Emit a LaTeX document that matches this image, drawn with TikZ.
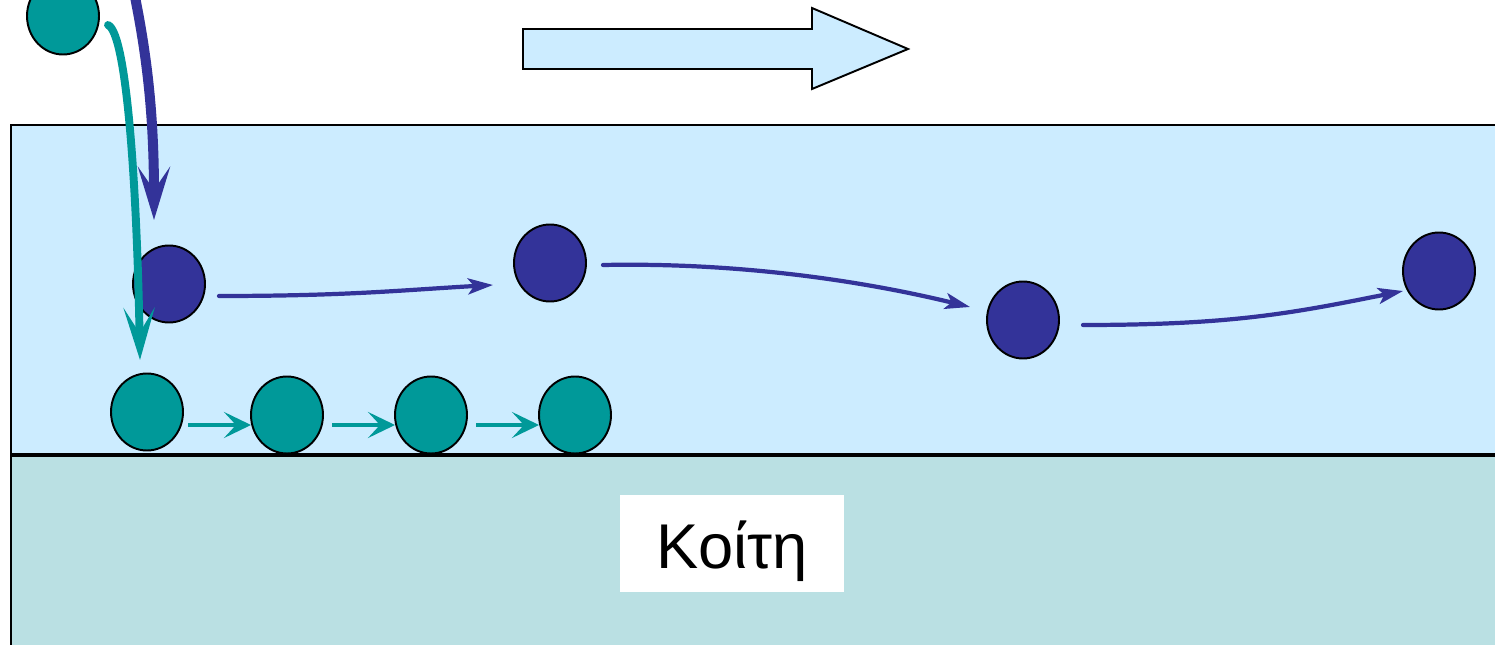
\documentclass[tikz,border=0pt]{standalone}
\usepackage{fontspec}
\setmainfont{Liberation Sans}
\usetikzlibrary{arrows.meta}
\usetikzlibrary{shapes.geometric}
\usetikzlibrary{calc}

\definecolor{navy}{RGB}{51,51,153}
\definecolor{teal}{RGB}{0,153,153}
\definecolor{water}{RGB}{204,236,255}
\definecolor{bedcol}{RGB}{186,224,227}

\begin{document}
\begin{tikzpicture}[x=0.02cm,y=-0.02cm,
  grain/.style={ellipse,draw,line width=1.1pt,inner sep=0pt,minimum width=1.44cm,minimum height=1.54cm},
  fall/.style={line width=#1,line cap=round},
  hop/.style={navy,line width=2.4pt,line cap=round,-{Stealth[length=0.5cm,width=0.32cm,inset=0.12cm]}},
  roll/.style={teal,line width=2.3pt,-{Stealth[length=0.54cm,width=0.52cm,inset=0.24cm]}}]
\useasboundingbox (0,0) rectangle (1495,645);
\fill[water] (11,125) rectangle (1500,455);
\fill[bedcol] (11,455) rectangle (1500,650);
\draw[line width=1.1pt] (1500,125) -- (11,125) -- (11,650);
\draw[line width=2.3pt] (11,455) -- (1500,455);
\draw[line width=1.1pt,fill=water] (523,29) -- (812,29) -- (812,8) -- (908,49) -- (812,89) -- (812,69) -- (523,69) -- cycle;
\node (bed) [fill=white,inner xsep=0pt,inner ysep=0pt,minimum width=4.48cm,text height=1.48cm,text depth=0.46cm] at (732,543.5) {\fontsize{36}{38}\selectfont Κοίτη};
\node (nt0) [grain,fill=teal] at (63,16) {};
\node (tb1) [grain,fill=teal] at (147,412) {};
\node (tb2) [grain,fill=teal] at (287,415) {};
\node (tb3) [grain,fill=teal] at (431,415) {};
\node (tb4) [grain,fill=teal] at (575,415) {};
\node (nb1) [grain,fill=navy] at (169,284) {};
\node (nb2) [grain,fill=navy] at (550,263) {};
\node (nb3) [grain,fill=navy] at (1023,320) {};
\node (nb4) [grain,fill=navy] at (1439,271) {};
\coordinate (top) at (134,-8);
\draw[navy,fall=5.7pt,-{Stealth[length=1.06cm,width=0.64cm,inset=0.46cm]}] (top) .. controls (148,60) and (154,120) .. ($(nb1)+(-15,-64)$);
\draw[teal,fall=4.5pt,-{Stealth[length=1.04cm,width=0.62cm,inset=0.5cm]}] ($(nt0)+(45,9)$) .. controls +(19,8) and +(-3,-170) .. ($(tb1)+(-7,-52)$);
\draw[hop] ($(nb1)+(50,12)$) .. controls +(130,0) and +(-90,5) .. ($(nb2)+(-57,22)$);
\draw[hop] ($(nb2)+(53,2)$) .. controls +(150,-3) and +(-90,-22) .. ($(nb3)+(-53,-13)$);
\draw[hop] ($(nb3)+(60,5)$) .. controls +(150,0) and +(-110,22) .. ($(nb4)+(-36,20)$);
\draw[roll] ($(tb1)+(41,13)$) -- ($(tb2)+(-36,10)$);
\draw[roll] ($(tb2)+(45,10)$) -- ($(tb3)+(-36,10)$);
\draw[roll] ($(tb3)+(45,10)$) -- ($(tb4)+(-36,10)$);
\end{tikzpicture}
\end{document}
